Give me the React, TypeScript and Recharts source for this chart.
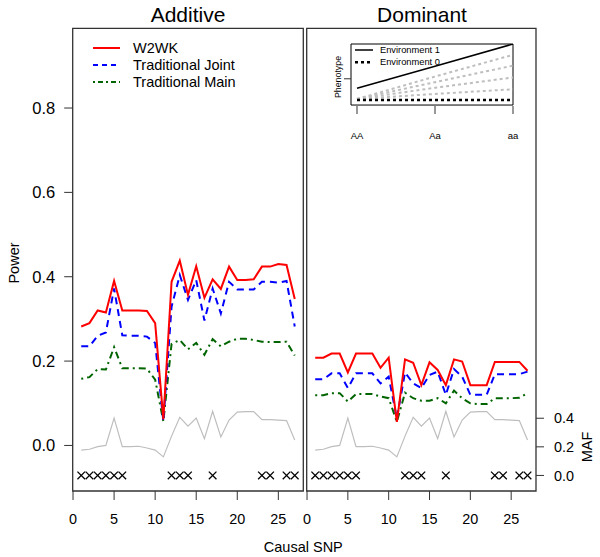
import React from 'react'
import { ComposedChart, LineChart, Line, Scatter, XAxis, YAxis, ReferenceArea } from 'recharts'

const FONT = '"Liberation Sans", Arial, sans-serif'

// causal SNP index (x)
const SNP = [1, 2, 3, 4, 5, 6, 7, 8, 9, 10, 11, 12, 13, 14, 15, 16, 17, 18, 19, 20, 21, 22, 23, 24, 25, 26, 27]

// additive model power
const ADD_W2WK = [0.282, 0.29, 0.32, 0.315, 0.39, 0.32, 0.32, 0.32, 0.319, 0.29, 0.062, 0.388, 0.438, 0.357, 0.425, 0.35, 0.394, 0.371, 0.424, 0.392, 0.392, 0.394, 0.424, 0.424, 0.43, 0.428, 0.347]
const ADD_JOINT = [0.235, 0.235, 0.26, 0.268, 0.372, 0.261, 0.26, 0.26, 0.258, 0.243, 0.057, 0.329, 0.404, 0.345, 0.392, 0.296, 0.372, 0.313, 0.388, 0.37, 0.37, 0.37, 0.388, 0.388, 0.386, 0.39, 0.282]
const ADD_MAIN = [0.158, 0.162, 0.181, 0.18, 0.233, 0.183, 0.183, 0.183, 0.182, 0.156, 0.057, 0.241, 0.25, 0.228, 0.243, 0.215, 0.252, 0.235, 0.246, 0.253, 0.253, 0.25, 0.246, 0.245, 0.245, 0.246, 0.213]

// dominant model power
const DOM_W2WK = [0.208, 0.208, 0.218, 0.218, 0.173, 0.218, 0.218, 0.218, 0.184, 0.208, 0.056, 0.204, 0.196, 0.143, 0.197, 0.179, 0.143, 0.204, 0.199, 0.143, 0.143, 0.143, 0.198, 0.198, 0.198, 0.198, 0.177]
const DOM_JOINT = [0.157, 0.157, 0.171, 0.171, 0.136, 0.171, 0.171, 0.171, 0.147, 0.163, 0.064, 0.173, 0.147, 0.136, 0.167, 0.175, 0.12, 0.181, 0.163, 0.12, 0.12, 0.12, 0.169, 0.169, 0.169, 0.169, 0.175]
const DOM_MAIN = [0.119, 0.119, 0.124, 0.124, 0.104, 0.122, 0.122, 0.122, 0.116, 0.112, 0.056, 0.125, 0.112, 0.106, 0.106, 0.112, 0.1, 0.13, 0.112, 0.1, 0.098, 0.098, 0.112, 0.112, 0.112, 0.113, 0.124]

// minor allele frequency of each SNP (right axis)
const MAF = [0.177, 0.183, 0.201, 0.21, 0.401, 0.201, 0.201, 0.204, 0.192, 0.177, 0.13, 0.275, 0.407, 0.345, 0.401, 0.257, 0.449, 0.269, 0.387, 0.443, 0.446, 0.446, 0.39, 0.39, 0.387, 0.384, 0.248]

// SNPs marked with x at MAF = 0
const MARKED = [1, 2, 3, 4, 5, 6, 12, 13, 14, 17, 23, 24, 26, 27]

// inset: phenotype by genotype
const GENO = ['AA', 'Aa', 'aa']
const GENO_X = [0, 1, 2]
const ENV1 = [0.21, 0.605, 1.0]
const ENV0 = [0, 0, 0]
const MID1 = [0.02, 0.42, 0.807]
const MID2 = [0.02, 0.32, 0.614]
const MID3 = [0.02, 0.22, 0.404]
const MID4 = [0.02, 0.11, 0.193]

const POWER_TICKS = [0, 0.2, 0.4, 0.6, 0.8]
const MAF_TICKS = [0, 0.2, 0.4]
const X_TICKS = [0, 5, 10, 15, 20, 25]

const X_DOM: [number, number] = [-0.04, 28.04]
const P_DOM: [number, number] = [-0.108, 0.989]
const M_DOM: [number, number] = [-0.1088, 3.127]

const addData = SNP.map((s, i) => ({ snp: s, w2wk: ADD_W2WK[i], joint: ADD_JOINT[i], main: ADD_MAIN[i], maf: MAF[i] }))
const domData = SNP.map((s, i) => ({ snp: s, w2wk: DOM_W2WK[i], joint: DOM_JOINT[i], main: DOM_MAIN[i], maf: MAF[i] }))
const markData = MARKED.map((s) => ({ snp: s, maf: 0 }))
const insetData = GENO_X.map((g, i) => ({ g, env1: ENV1[i], env0: ENV0[i], m1: MID1[i], m2: MID2[i], m3: MID3[i], m4: MID4[i] }))

const Cross = (props: any) => {
  const { cx, cy } = props
  const r = 3.8
  return (
    <g stroke="#000" strokeWidth={1.3}>
      <line x1={cx - r} y1={cy - r} x2={cx + r} y2={cy + r} />
      <line x1={cx - r} y1={cy + r} x2={cx + r} y2={cy - r} />
    </g>
  )
}

function Panel({ data, left, width, margin, side }: any) {
  return (
    <div style={{ position: 'absolute', left, top: 0 }}>
      <ComposedChart width={width} height={557} data={data} margin={margin}>
        <XAxis
          type="number"
          dataKey="snp"
          domain={X_DOM}
          ticks={X_TICKS}
          interval={0}
          allowDataOverflow
          axisLine={false}
          tickSize={9}
          tickMargin={14}
          height={30}
          tickLine={{ stroke: '#333' }}
          tick={{ fontSize: 14.4, fill: '#000', fontFamily: FONT }}
        />
        <YAxis
          yAxisId="power"
          type="number"
          domain={P_DOM}
          ticks={POWER_TICKS}
          allowDataOverflow
          hide={side !== 'left'}
          width={60}
          axisLine={false}
          tickSize={8.5}
          tickMargin={9}
          interval={0}
          tickLine={{ stroke: '#333' }}
          tickFormatter={(v: number) => v.toFixed(1)}
          tick={{ fontSize: 16.5, fill: '#000', fontFamily: FONT }}
        />
        <YAxis
          yAxisId="maf"
          orientation="right"
          type="number"
          domain={M_DOM}
          ticks={MAF_TICKS}
          allowDataOverflow
          hide={side !== 'right'}
          width={50}
          axisLine={false}
          tickSize={8}
          tickMargin={10}
          interval={0}
          tickLine={{ stroke: '#333' }}
          tickFormatter={(v: number) => v.toFixed(1)}
          tick={{ fontSize: 14.4, fill: '#000', fontFamily: FONT }}
        />
        <ReferenceArea yAxisId="power" x1={X_DOM[0]} x2={X_DOM[1]} y1={P_DOM[0]} y2={P_DOM[1]} fill="none" stroke="#333" strokeWidth={1.3} ifOverflow="visible" />
        <Line yAxisId="maf" dataKey="maf" stroke="#bebebe" strokeWidth={1.2} dot={false} isAnimationActive={false} />
        <Line yAxisId="power" dataKey="main" stroke="#006400" strokeWidth={2} strokeDasharray="2 4 7 4" dot={false} isAnimationActive={false} />
        <Line yAxisId="power" dataKey="joint" stroke="#0000ff" strokeWidth={2} strokeDasharray="7 5" dot={false} isAnimationActive={false} />
        <Line yAxisId="power" dataKey="w2wk" stroke="#ff0000" strokeWidth={2} dot={false} isAnimationActive={false} />
        <Scatter yAxisId="maf" data={markData} dataKey="maf" shape={Cross} isAnimationActive={false} />
      </ComposedChart>
    </div>
  )
}

function Inset() {
  return (
    <div style={{ position: 'absolute', left: 320, top: 30 }}>
      <LineChart width={200} height={120} data={insetData} margin={{ top: 14, right: 7, bottom: 4, left: 11 }}>
        <XAxis
          type="number"
          dataKey="g"
          domain={[-0.077, 2]}
          ticks={GENO_X}
          interval={0}
          allowDataOverflow
          axisLine={false}
          height={40}
          tickSize={8}
          tickMargin={18}
          tickLine={{ stroke: '#333' }}
          tickFormatter={(v: number) => GENO[v]}
          tick={{ fontSize: 9.5, fill: '#000', fontFamily: FONT }}
        />
        <YAxis
          type="number"
          domain={[-0.105, 1.0]}
          ticks={[0.38]}
          allowDataOverflow
          width={20}
          axisLine={false}
          tickSize={7}
          tickLine={{ stroke: '#333' }}
          tickFormatter={() => ''}
        />
        <ReferenceArea x1={-0.077} x2={2} y1={-0.088} y2={1.0} fill="#fff" fillOpacity={1} stroke="#000" strokeWidth={1} ifOverflow="visible" />
        <Line dataKey="m1" stroke="#bebebe" strokeWidth={2} strokeDasharray="3 3" dot={false} isAnimationActive={false} />
        <Line dataKey="m2" stroke="#bebebe" strokeWidth={2} strokeDasharray="3 3" dot={false} isAnimationActive={false} />
        <Line dataKey="m3" stroke="#bebebe" strokeWidth={2} strokeDasharray="3 3" dot={false} isAnimationActive={false} />
        <Line dataKey="m4" stroke="#bebebe" strokeWidth={2} strokeDasharray="3 3" dot={false} isAnimationActive={false} />
        <Line dataKey="env0" stroke="#000" strokeWidth={2.5} strokeDasharray="3 3" dot={false} isAnimationActive={false} />
        <Line dataKey="env1" stroke="#000" strokeWidth={1.5} dot={false} isAnimationActive={false} />
      </LineChart>
    </div>
  )
}

const txt = (x: number, y: number, size: number, rotate = 0): React.CSSProperties => ({
  position: 'absolute',
  left: x,
  top: y,
  fontSize: size,
  lineHeight: 1,
  whiteSpace: 'nowrap',
  transform: `translate(-50%, -50%) rotate(${rotate}deg)`,
  color: '#000',
})

export default function App() {
  return (
    <div style={{ position: 'absolute', left: 0, top: 0, width: 600, height: 557, background: '#fff', fontFamily: FONT, overflow: 'hidden' }}>
      <Panel data={addData} left={0} width={310} side="left" margin={{ top: 28.3, right: 6.7, bottom: 36, left: 12.7 }} />
      <Panel data={domData} left={300} width={300} side="right" margin={{ top: 28.3, right: 14, bottom: 36, left: 6.7 }} />
      <Inset />

      <svg style={{ position: 'absolute', left: 85, top: 38 }} width={180} height={56} fontFamily={FONT}>
        <line x1={8} x2={35} y1={10} y2={10} stroke="#ff0000" strokeWidth={2} />
        <line x1={8} x2={35} y1={27} y2={27} stroke="#0000ff" strokeWidth={2} strokeDasharray="5 4" />
        <line x1={8} x2={35} y1={44} y2={44} stroke="#006400" strokeWidth={2} strokeDasharray="2 3 5 3" />
        <text x={48} y={10} fontSize={14.5} dominantBaseline="central">W2WK</text>
        <text x={48} y={27} fontSize={14.5} dominantBaseline="central">Traditional Joint</text>
        <text x={48} y={44} fontSize={14.5} dominantBaseline="central">Traditional Main</text>
      </svg>

      <svg style={{ position: 'absolute', left: 350, top: 42 }} width={110} height={28} fontFamily={FONT}>
        <line x1={5} x2={23} y1={8} y2={8} stroke="#000" strokeWidth={1.5} />
        <line x1={5} x2={23} y1={20.3} y2={20.3} stroke="#000" strokeWidth={2.5} strokeDasharray="3 3" />
        <text x={30} y={8} fontSize={9.3} dominantBaseline="central">Environment 1</text>
        <text x={30} y={20.3} fontSize={9.3} dominantBaseline="central">Environment 0</text>
      </svg>

      <div style={txt(188, 14.2, 21)}>Additive</div>
      <div style={txt(422, 14.2, 21)}>Dominant</div>
      <div style={txt(14, 263, 14.5, -90)}>Power</div>
      <div style={txt(587, 446.7, 14.5, -90)}>MAF</div>
      <div style={txt(303.3, 546.7, 14.5)}>Causal SNP</div>
      <div style={txt(338, 77, 8.8, -90)}>Phenotype</div>
    </div>
  )
}
